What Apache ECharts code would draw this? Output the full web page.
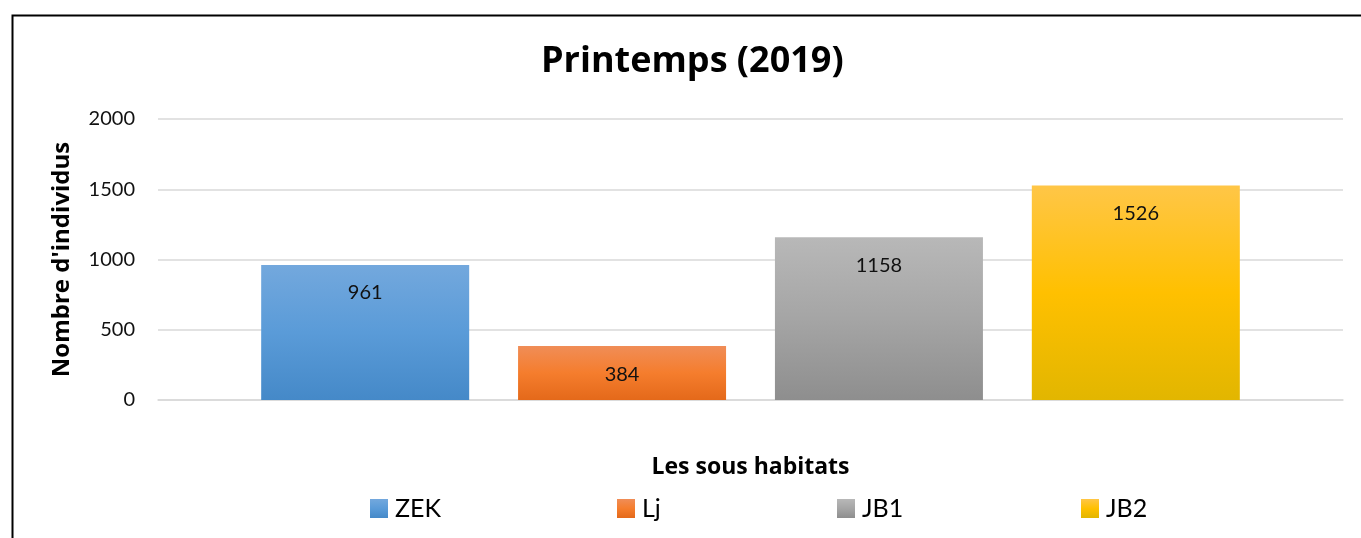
<!DOCTYPE html>
<html><head><meta charset="utf-8">
<script src="https://cdn.jsdelivr.net/npm/echarts@6/dist/echarts.min.js"></script>
<style>html,body{margin:0;padding:0;background:#fff}#c{width:1361px;height:538px}</style>
</head><body><div id="c"></div>
<script>
const titleText = 'Printemps (2019)';
const seriesNames = ['ZEK', 'Lj', 'JB1', 'JB2'];
const seriesValues = [961, 384, 1158, 1526];
const yTicks = [0, 500, 1000, 1500, 2000];
const xAxisTitle = 'Les sous habitats';
const yAxisTitle = "Nombre d'individus";

const FONT = 'Lato';
const BFONT = 'Open Sans';
const grads = [
  ['#73a8dd', '#5a9bd8', '#4589c8'],
  ['#f08d57', '#f57d2d', '#e4691a'],
  ['#b8b8b8', '#a5a5a5', '#8e8e8e'],
  ['#ffc647', '#ffc000', '#e2b600']
];
function grad(c) {
  return new echarts.graphic.LinearGradient(0, 0, 0, 1, [
    {offset: 0, color: c[0]}, {offset: 0.5, color: c[1]}, {offset: 1, color: c[2]}
  ]);
}
const legendLefts = [370, 617, 837, 1081];

const chart = echarts.init(document.getElementById('c'));
chart.setOption({
  animation: false,
  backgroundColor: '#fff',
  graphic: [{
    type: 'rect', left: 10, top: 13, z: 100,
    shape: {width: 1400, height: 600},
    style: {fill: 'none', stroke: '#000', lineWidth: 2}
  }],
  title: {
    text: titleText, left: 541, top: 44, padding: 0,
    textStyle: {fontFamily: BFONT, fontSize: 36, fontWeight: 'bold', color: '#000'}
  },
  legend: seriesNames.map((n, i) => ({
    data: [{name: n, icon: 'rect'}], left: legendLefts[i], top: 496, padding: 0,
    itemWidth: 18, itemHeight: 19, itemGap: 0,
    textStyle: {fontFamily: FONT, fontSize: 25, color: '#000', padding: [0, 0, 0, 2]}
  })),
  grid: {left: 158, right: 18, top: 119, bottom: 138, containLabel: false},
  xAxis: {
    type: 'category', data: [''],
    name: xAxisTitle, nameLocation: 'middle', nameGap: 56,
    nameTextStyle: {fontFamily: BFONT, fontSize: 23, fontWeight: 'bold', color: '#000'},
    axisLine: {lineStyle: {color: '#d9d9d9', width: 1.5}},
    axisTick: {show: false}, axisLabel: {show: false}
  },
  yAxis: {
    type: 'value', min: yTicks[0], max: yTicks[yTicks.length - 1], interval: 500,
    name: yAxisTitle, nameLocation: 'middle', nameGap: 84, nameRotate: 90,
    nameTextStyle: {fontFamily: BFONT, fontSize: 24, fontWeight: 'bold', color: '#000'},
    axisLine: {show: false}, axisTick: {show: false},
    axisLabel: {fontFamily: FONT, fontSize: 20, color: '#111', margin: 23,
      formatter: v => String(v)},
    splitLine: {lineStyle: {color: '#d9d9d9', width: 1.5}}
  },
  series: seriesNames.map((n, i) => ({
    name: n, type: 'bar', data: [seriesValues[i]],
    barWidth: 208, barGap: '23.5%',
    itemStyle: {color: grad(grads[i])},
    label: {show: true, position: 'insideTop', distance: 18,
      fontFamily: FONT, fontSize: 20, color: '#111'}
  }))
});
</script></body></html>
